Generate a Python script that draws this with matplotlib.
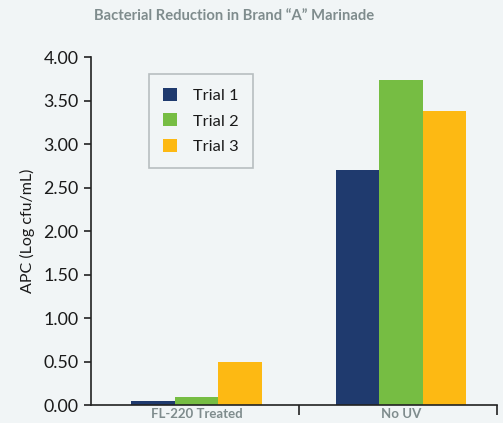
import matplotlib
matplotlib.use("Agg")
import matplotlib.pyplot as plt
import numpy as np

categories = ["FL-220 Treated", "No UV"]
series_names = ["Trial 1", "Trial 2", "Trial 3"]
trial1 = [0.05, 2.70]
trial2 = [0.09, 3.74]
trial3 = [0.50, 3.38]
yticks = [0.0, 0.5, 1.0, 1.5, 2.0, 2.5, 3.0, 3.5, 4.0]
colors = ["#1f3a6e", "#76bd43", "#fdb913"]
bg = "#f1f5f6"

plt.rcParams['font.family'] = ['Lato', 'DejaVu Sans']

fig = plt.figure(figsize=(5.03, 4.23), dpi=100, facecolor=bg)
ax = fig.add_axes([91/503, 18/423, 406/503, 348/423], facecolor=bg)

x = np.arange(len(categories))
w = 0.213
for i, (vals, name) in enumerate(zip([trial1, trial2, trial3], series_names)):
    ax.bar(x + (i - 1) * w, vals, width=w, color=colors[i], label=name, zorder=2)

xl, xr = -0.516, 1.47
ax.set_xlim(xl, xr)
ax.set_ylim(0, 4.0)
ax.set_yticks(yticks)
ax.set_yticklabels([f"{v:.2f}" for v in yticks], fontsize=12.8, color="#1a1a1a")
ax.set_xticks(x)
ax.set_xticklabels(categories, fontsize=9.5, color="#7f8c8d", fontweight="bold")
ax.tick_params(axis='x', which='major', length=0, pad=2.5)
ax.set_xticks([0.5, xr], minor=True)
ax.tick_params(axis='x', which='minor', length=7, width=1.2, direction='out', color="#222222")
ax.tick_params(axis='y', length=5, width=1.2, direction='out', color="#222222", pad=4)

for s in ["top", "right"]:
    ax.spines[s].set_visible(False)
for s in ["left", "bottom"]:
    ax.spines[s].set_linewidth(1.2)
    ax.spines[s].set_color("#222222")

ax.set_ylabel("APC (Log cfu/mL)", fontsize=11.5, labelpad=6, color="#1a1a1a")

leg = ax.legend(loc="upper left", bbox_to_anchor=((149 - 91) / 406, (405 - 74) / 348),
                frameon=True, fancybox=False, fontsize=11.8, handlelength=0.85, handleheight=0.85,
                borderpad=0.85, labelspacing=0.62, handletextpad=1.0, borderaxespad=0)
for t in leg.get_texts():
    t.set_color("#1a1a1a")
leg.get_frame().set_facecolor(bg)
leg.get_frame().set_edgecolor("#a9b0b3")
leg.get_frame().set_linewidth(1.2)

fig.text(234/503, 1 - 16/423, "Bacterial Reduction in Brand \u201cA\u201d Marinade", ha="center", va="center",
         fontsize=10.6, color="#7f8c8d", fontweight="bold")

fig.savefig("out.png", dpi=100, facecolor=bg)
